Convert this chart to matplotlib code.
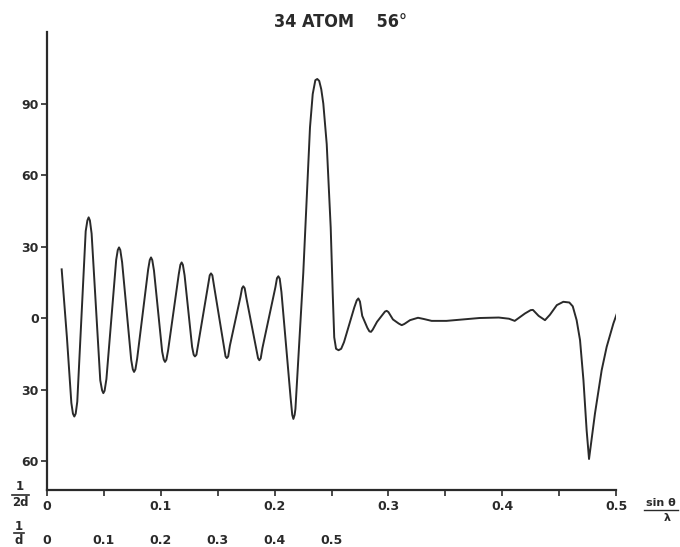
import matplotlib
matplotlib.use("Agg")
import matplotlib.pyplot as plt
import matplotlib.transforms as mtransforms
from matplotlib.lines import Line2D

# sin(theta)/lambda values and curve values
x_vals = [
    0.0129, 0.0175, 0.0214, 0.0228, 0.0240, 0.0252, 0.0266,
    0.0340, 0.0355, 0.0366, 0.0377, 0.0392,
    0.0468, 0.0484, 0.0495, 0.0506, 0.0522,
    0.0608, 0.0622, 0.0633, 0.0644, 0.0660,
    0.0740, 0.0754, 0.0765, 0.0777, 0.0792,
    0.0889, 0.0903, 0.0914, 0.0925, 0.0940,
    0.1012, 0.1026, 0.1037, 0.1049, 0.1064,
    0.1158, 0.1172, 0.1183, 0.1194, 0.1209,
    0.1275, 0.1289, 0.1300, 0.1313, 0.1328,
    0.1416, 0.1430, 0.1441, 0.1453, 0.1468,
    0.1555, 0.1569, 0.1580, 0.1592, 0.1607,
    0.1700, 0.1714, 0.1725, 0.1737, 0.1752,
    0.1840, 0.1855, 0.1866, 0.1878, 0.1893,
    0.2007, 0.2021, 0.2033, 0.2045, 0.2060,
    0.2140, 0.2155, 0.2165, 0.2176, 0.2183,
    0.2252, 0.2311, 0.2335, 0.2358, 0.2375, 0.2392, 0.2410,
    0.2428, 0.2458, 0.2493, 0.2511, 0.2524, 0.2540, 0.2562, 0.2585,
    0.2610, 0.2650, 0.2700, 0.2722, 0.2736, 0.2750, 0.2770,
    0.2815, 0.2833, 0.2847, 0.2862,
    0.2900, 0.2970, 0.2985, 0.3000, 0.3040,
    0.3090, 0.3117, 0.3140, 0.3190,
    0.3260, 0.3310, 0.3380, 0.3510, 0.3800, 0.3970, 0.4060, 0.4110,
    0.4200, 0.4250, 0.4270, 0.4320, 0.4376,
    0.4420, 0.4480, 0.4537, 0.4590, 0.4620, 0.4654, 0.4684, 0.4714, 0.4742,
    0.4763, 0.4785, 0.4815, 0.4874, 0.4918, 0.4977, 0.5011,
]
f_vals = [
    20.5, -8.0, -35.5, -40.0, -41.2, -40.0, -35.0,
    36.5, 41.0, 42.3, 41.0, 35.5,
    -26.0, -30.2, -31.4, -30.4, -25.5,
    24.5, 28.6, 29.7, 28.6, 23.5,
    -17.5, -21.4, -22.5, -21.4, -17.0,
    20.5, 24.4, 25.5, 24.4, 20.0,
    -14.0, -17.3, -18.3, -17.4, -13.5,
    18.5, 22.4, 23.4, 22.4, 18.0,
    -12.0, -15.3, -16.0, -15.3, -11.0,
    14.5, 18.0, 18.8, 18.0, 13.5,
    -12.0, -16.0, -16.7, -16.0, -11.5,
    9.0, 12.6, 13.4, 12.6, 8.5,
    -13.0, -16.8, -17.6, -16.8, -12.5,
    13.0, 16.8, 17.6, 16.6, 11.0,
    -33.0, -40.5, -42.2, -40.5, -38.0,
    19.0, 80.0, 94.0, 99.8, 100.3, 99.5, 96.0,
    90.0, 73.0, 38.0, 10.0, -8.0, -12.8, -13.4, -12.8,
    -10.0, -3.5, 4.5, 7.5, 8.3, 7.0, 1.0,
    -4.0, -5.5, -5.7, -4.8,
    -1.5, 2.8, 3.1, 2.6, -0.5,
    -2.2, -2.9, -2.4, -0.8,
    0.2, -0.3, -1.1, -1.1, 0.1, 0.3, -0.2, -1.1,
    2.0, 3.4, 3.5, 1.0, -0.8,
    1.5, 5.5, 6.9, 6.6, 5.0, -0.8, -9.2, -26.0, -47.0,
    -59.0, -51.0, -40.0, -21.8, -12.0, -2.2, 2.4,
]

x_ticks = [0.0, 0.1, 0.2, 0.3, 0.4, 0.5]
x_tick_labels = ["0", "0.1", "0.2", "0.3", "0.4", "0.5"]
x_minor_ticks = [0.05, 0.15, 0.25, 0.35, 0.45]
y_ticks = [90, 60, 30, 0, -30, -60]
y_tick_labels = ["90", "60", "30", "0", "30", "60"]
d_positions = [0.0, 0.05, 0.10, 0.15, 0.20, 0.25]
d_labels = ["0", "0.1", "0.2", "0.3", "0.4", "0.5"]
title_text = "34 ATOM    56°"

ink = "#2a2a2a"
W, H = 680, 547
fig = plt.figure(figsize=(6.8, 5.47), dpi=100)
ax = fig.add_axes([47 / W, 1 - 490 / H, (616 - 47) / W, (490 - 32) / H])

ax.plot(x_vals, f_vals, color=ink, lw=1.4, solid_joinstyle="round")

ax.set_xlim(0, 0.5)
ax.set_ylim(-72, 120)
for s in ["top", "right"]:
    ax.spines[s].set_visible(False)
for s in ["left", "bottom"]:
    ax.spines[s].set_linewidth(1.6)
    ax.spines[s].set_color(ink)

ax.set_xticks(x_ticks)
ax.set_xticklabels(x_tick_labels, fontweight="bold", fontsize=9, color=ink)
ax.set_xticks(x_minor_ticks, minor=True)
ax.set_yticks(y_ticks)
ax.set_yticklabels(y_tick_labels, fontweight="bold", fontsize=9, color=ink)
ax.tick_params(axis="both", which="both", direction="out", length=4, width=1.2, color=ink)
ax.tick_params(axis="x", which="major", pad=3)
ax.tick_params(axis="y", which="major", pad=2)

# second scale row: 1/d
trans = mtransforms.blended_transform_factory(ax.transData, fig.transFigure)
for p, lab in zip(d_positions, d_labels):
    ax.text(p, 1 - 540 / H, lab, transform=trans, ha="center", va="center",
            fontsize=9, fontweight="bold", color=ink)


def ftext(px, py, s, **kw):
    fig.text(px / W, 1 - py / H, s, ha="center", va="center", color=ink,
             fontweight="bold", **kw)


def fline(x0, x1, py, lw=1.2):
    fig.add_artist(Line2D([x0 / W, x1 / W], [1 - py / H, 1 - py / H],
                          transform=fig.transFigure, color=ink, lw=lw))


# 1/2d fraction
ftext(20, 487, "1", fontsize=8.5)
fline(12, 29, 494.5)
ftext(20, 503, "2d", fontsize=8.5)
# 1/d fraction
ftext(19, 526, "1", fontsize=8.5)
fline(14, 24, 533)
ftext(19, 541, "d", fontsize=8.5)
# sin theta / lambda
ftext(661, 503, "sin θ", fontsize=8)
fline(644, 678, 510, lw=1.0)
ftext(667, 518, "λ", fontsize=8)

fig.text(340 / W, 1 - 22 / H, title_text, ha="center", va="center",
         fontsize=13, fontweight="bold", family="DejaVu Sans", fontstretch="condensed",
         color=ink)

fig.savefig("out.png", dpi=100, facecolor="white")
